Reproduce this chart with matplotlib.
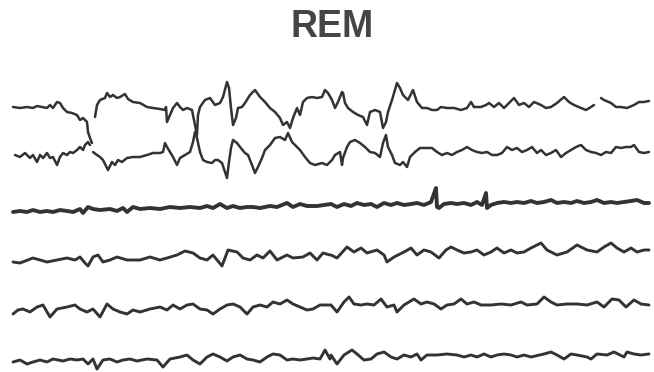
#! /usr/bin/env python3

import numpy as np
import matplotlib
matplotlib.use("Agg")
import matplotlib.pyplot as plt

# REM sleep record: 2 EOG channels, 1 EMG, 3 EEG (time in samples, amplitude in a.u.)
nan = np.nan

# EOG channels as (t, amplitude) pairs, nan = pen lifted
eog1 = [(13, -2), (20, -3), (27, -2), (33, -3), (37, -1), (42, -2), (47, -3), (50, 0), (53, -3), (57, 3),
        (60, 2), (63, -3), (67, -7), (72, -8), (77, -10), (80, -15), (83, -13), (87, -17), (88, -27), (90, -33),
        (92, -38), (93, nan), (95, -12), (97, 0), (100, 5), (105, 7), (107, 12), (110, 8), (113, 10), (117, 7),
        (120, 8), (125, 11), (128, 6), (133, 3), (140, 2), (147, -2), (153, -3), (160, -4), (165, -5), (166, -2),
        (167, -17), (170, -10), (173, -3), (177, 2), (180, -2), (183, -5), (187, -3), (192, -5), (195, -20), (197, -30),
        (198, -10), (200, -2), (205, 5), (210, 7), (215, 0), (220, 2), (223, 8), (227, 23), (229, 17), (231, -3),
        (233, -20), (236, -13), (238, -3), (242, -2), (245, 2), (250, 10), (255, 15), (260, 8), (265, 3), (270, -3),
        (275, -7), (280, -13), (283, -20), (287, -17), (290, -23), (293, -13), (297, -3), (300, -10), (303, 3), (307, 7),
        (312, 8), (317, 7), (322, 8), (325, 15), (328, 12), (332, 5), (335, -3), (338, 3), (342, 13), (343, 12),
        (345, 2), (348, -3), (353, -7), (358, -10), (363, -12), (367, -20), (370, -7), (375, -5), (380, -7), (383, -23),
        (386, -17), (388, -7), (392, 5), (397, 22), (400, 17), (403, 10), (408, 5), (413, 15), (417, 3), (422, -3),
        (427, -3), (432, -5), (437, -5), (441, -2), (447, -3), (454, -3), (461, -5), (467, -3), (471, 3), (474, -2),
        (481, -2), (486, 0), (489, 2), (494, -2), (499, 2), (504, -3), (509, 2), (514, 7), (519, 0), (524, 2),
        (529, -2), (534, 3), (541, 0), (546, -3), (551, -2), (557, 2), (564, 8), (569, 3), (574, 0), (581, -3),
        (586, -5), (591, -2), (594, 0), (597, nan), (601, 7), (604, 5), (611, 2), (616, -2), (621, -2), (627, -3),
        (634, 0), (639, 3), (644, 3), (649, 4)]

eog2 = [(15, 0), (20, -2), (25, 2), (30, -3), (33, 0), (37, -7), (40, 0), (43, -3), (47, 2), (50, -3),
        (53, -2), (57, -10), (60, -2), (63, 2), (67, 0), (70, 3), (73, 2), (77, 5), (80, 8), (83, 5),
        (85, 10), (88, 13), (90, 10), (91, nan), (93, 3), (97, 0), (100, -2), (103, -5), (107, -13), (108, -15),
        (112, -7), (115, -10), (118, -5), (122, -7), (127, -3), (133, -2), (140, -2), (147, 0), (153, 2), (160, 2),
        (163, 3), (165, 12), (167, 8), (170, 3), (173, -2), (177, -10), (180, -3), (185, 0), (190, 3), (193, 13),
        (195, 23), (197, 17), (200, 3), (203, -5), (207, -7), (212, -8), (215, -5), (218, -5), (222, -8), (225, -17),
        (227, -23), (229, -7), (231, 7), (233, 15), (237, 12), (240, 8), (245, 2), (248, 0), (252, -10), (255, -18),
        (258, -12), (262, -3), (265, 5), (270, 10), (275, 17), (280, 18), (285, 15), (288, 22), (292, 13), (295, 10),
        (300, 5), (305, -2), (310, -8), (315, -10), (322, -8), (327, -10), (332, -5), (335, 0), (340, 3), (342, -10),
        (343, -3), (347, 8), (350, 13), (355, 15), (360, 12), (365, 8), (370, 3), (375, 2), (380, -2), (383, 12),
        (386, 20), (388, 8), (392, 0), (395, -8), (400, -10), (403, -7), (407, -12), (410, -2), (415, 3), (420, 7),
        (425, 7), (432, 7), (437, 3), (442, 0), (447, 2), (452, 0), (457, 3), (462, 5), (467, 8), (472, 5),
        (477, 3), (482, 2), (487, 3), (492, 0), (497, 0), (502, 2), (507, 8), (512, 5), (517, 7), (522, 3),
        (527, 5), (532, 8), (537, 2), (541, 5), (546, 0), (551, 2), (556, 5), (561, -2), (566, 2), (571, 5),
        (576, 8), (581, 10), (586, 5), (591, 3), (596, 2), (601, 0), (606, 3), (611, 2), (616, 8), (621, 7),
        (626, 8), (631, 8), (634, 10), (639, 3), (644, 2), (649, 3)]

t_emg = [13, 20, 27, 33, 40, 47, 53, 60, 67, 73, 80, 83, 88, 93, 100, 110, 117, 123, 127, 133,
         140, 150, 160, 170, 180, 190, 200, 207, 213, 220, 227, 233, 240, 247, 253, 260, 270, 277,
         287, 293, 300, 307, 317, 324, 331, 337, 344, 351, 357, 364, 371, 377, 384, 391, 397, 404,
         411, 417, 424, 431, 436, 437, 439, 444, 451, 457, 464, 471, 477, 482, 486, 487, 491, 497,
         504, 511, 517, 524, 531, 537, 544, 551, 557, 564, 571, 577, 584, 591, 597, 604, 611, 617,
         624, 631, 637, 644, 649]
emg = [-5, -4, -5, -3, -5, -4, -5, -3, -4, -5, -2, -6, 0, -2, -3, -2, -4, -1, -5, 0,
       -2, -1, -2, 0, -1, 0, -1, 1, -1, 3, -1, 1, -1, 0, 0, -1, 1, 0,
       4, 0, 3, 1, 1, 2, 3, 0, 3, 1, 4, 2, 3, 0, 4, 2, 4, 2,
       3, 4, 2, 5, 19, 0, -1, 3, 4, 3, 4, 2, 5, 2, 14, -1, 2, 4,
       5, 4, 5, 4, 6, 4, 5, 7, 4, 5, 4, 6, 4, 5, 7, 4, 5, 4,
       5, 6, 7, 4, 4]

t_eeg1 = [13, 20, 33, 47, 57, 67, 75, 80, 85, 88, 93, 98, 103, 110, 117, 127, 140, 150, 160, 167,
          177, 185, 193, 200, 207, 213, 222, 228, 237, 243, 250, 257, 263, 270, 277, 287, 293, 303,
          310, 317, 323, 330, 331, 337, 347, 354, 361, 367, 377, 384, 387, 394, 404, 411, 417, 424,
          431, 439, 446, 451, 457, 464, 471, 477, 484, 491, 497, 504, 511, 517, 524, 531, 541, 547,
          557, 567, 577, 587, 597, 604, 611, 617, 624, 631, 637, 644, 649]
eeg1 = [-7, -8, -3, -7, -5, -3, -5, -2, -8, -11, -2, 0, -7, -5, -2, -5, -5, -2, -5, -3,
        0, 4, 2, -3, -5, 0, -11, 5, 3, -3, -5, 0, -3, 4, -5, 0, -3, -2,
        2, -5, 2, 0, 0, -3, 8, 3, 7, 2, 5, 0, -7, -2, 3, 7, 0, 5,
        3, -3, 5, 8, 5, 2, 3, 5, 0, 3, 7, 2, 5, 2, 3, 7, 12, 5,
        0, 3, 10, 5, 3, 8, 12, 7, 3, 7, 3, 5, 5]

t_eeg2 = [13, 18, 23, 30, 37, 43, 50, 57, 67, 75, 80, 87, 93, 100, 107, 113, 120, 127, 133, 140,
          150, 160, 167, 173, 180, 187, 193, 200, 207, 213, 220, 227, 233, 240, 247, 253, 260, 267,
          273, 280, 287, 293, 300, 307, 313, 320, 324, 331, 337, 344, 349, 354, 361, 367, 374, 381,
          387, 394, 397, 404, 414, 421, 427, 434, 441, 447, 454, 461, 467, 474, 481, 491, 501, 511,
          521, 527, 537, 544, 551, 557, 567, 577, 587, 597, 604, 612, 619, 626, 634, 641, 649]
eeg2 = [-8, -4, -3, -6, -1, 1, -11, -3, -1, 1, -3, -6, -3, -11, 2, -3, -6, -8, -4, -6,
        -3, -1, -4, 1, -3, 1, 2, -3, -4, -8, -3, 1, 2, -1, -8, -1, 1, -1,
        4, 2, 6, 2, -1, -4, -3, 1, 1, 1, -6, 4, 9, 2, 1, 2, 1, 7,
        -1, 1, -6, 1, 7, 2, 4, 2, -3, 1, 2, 7, 2, 4, 1, 1, 2, 1,
        4, 1, 2, 9, 4, 1, 2, 2, 1, 4, -1, 7, 6, -1, 6, 2, 1]

t_eeg3 = [13, 20, 27, 33, 40, 47, 53, 63, 70, 77, 83, 88, 93, 97, 103, 110, 117, 123, 130, 137,
          147, 157, 163, 170, 180, 187, 193, 200, 207, 213, 220, 227, 233, 240, 247, 253, 260, 267,
          273, 280, 287, 293, 300, 307, 313, 320, 325, 330, 331, 337, 344, 352, 357, 364, 371, 377,
          384, 391, 397, 404, 411, 417, 421, 427, 437, 447, 457, 464, 471, 477, 484, 491, 497, 504,
          511, 517, 524, 531, 544, 551, 557, 564, 571, 577, 587, 591, 597, 607, 614, 624, 627, 634,
          641, 649]
eeg3 = [-5, -3, -7, -5, -3, -5, -2, -4, -2, -3, -2, -7, -2, -12, -3, -2, -5, -3, -2, -4,
        -2, -3, -10, -2, 0, 2, -3, -7, 0, 3, 0, -4, 0, 2, -2, -3, -5, 0,
        3, 2, -3, -2, -3, -2, -1, -2, 7, -2, 2, -7, 2, 7, 3, -3, -2, 3,
        5, 0, -2, 2, 0, 3, -3, 2, 2, 3, 2, 0, 2, 0, 3, 0, 2, 3,
        2, 0, 2, 0, 3, 5, 2, -2, 3, 2, 0, -2, 3, 2, 5, 0, 5, 3,
        2, 3]

t_eog1, v_eog1 = zip(*eog1)
t_eog2, v_eog2 = zip(*eog2)

traces = [(t_eog1, v_eog1), (t_eog2, v_eog2), (t_emg, emg),
          (t_eeg1, eeg1), (t_eeg2, eeg2), (t_eeg3, eeg3)]
offsets = [105, 155, 207, 255, 306, 357]   # vertical position of each channel
widths = [1.8, 1.8, 2.8, 2.1, 2.1, 2.1]
ink = '#333333'

fig = plt.figure(figsize=(6.54, 3.72), dpi=100)
ax = fig.add_axes([0, 0, 1, 1])
ax.set_xlim(0, 654)
ax.set_ylim(-372, 0)
ax.axis('off')

for (t, v), off, lw in zip(traces, offsets, widths):
    ax.plot(t, -off + np.array(v, dtype=float), color=ink, lw=lw,
            solid_joinstyle='round', solid_capstyle='round')

fig.text(332/654, 1 - 37/372, 'REM', ha='center', va='baseline',
         fontsize=27, fontweight='bold', family='Liberation Sans', color='#454545')

fig.savefig('out.png', dpi=100, facecolor='white')
